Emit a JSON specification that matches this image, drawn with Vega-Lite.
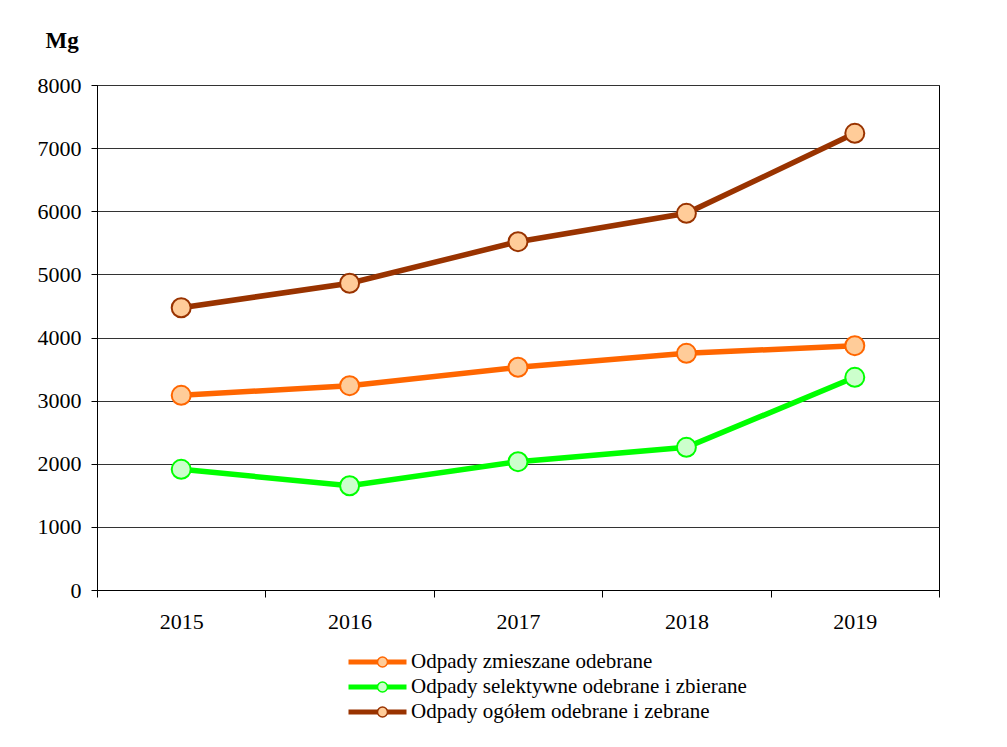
{
  "$schema": "https://vega.github.io/schema/vega-lite/v6.json",
  "width": 842,
  "height": 505,
  "autosize": {"type": "none"},
  "padding": {"left": 97, "top": 85, "right": 68, "bottom": 157},
  "background": "white",
  "data": {
    "values": [
      {"year": "2015", "series": "Odpady zmieszane odebrane", "value": 3084},
      {"year": "2016", "series": "Odpady zmieszane odebrane", "value": 3237},
      {"year": "2017", "series": "Odpady zmieszane odebrane", "value": 3528},
      {"year": "2018", "series": "Odpady zmieszane odebrane", "value": 3749},
      {"year": "2019", "series": "Odpady zmieszane odebrane", "value": 3871},
      {"year": "2015", "series": "Odpady selektywne odebrane i zbierane", "value": 1912},
      {"year": "2016", "series": "Odpady selektywne odebrane i zbierane", "value": 1652},
      {"year": "2017", "series": "Odpady selektywne odebrane i zbierane", "value": 2033},
      {"year": "2018", "series": "Odpady selektywne odebrane i zbierane", "value": 2260},
      {"year": "2019", "series": "Odpady selektywne odebrane i zbierane", "value": 3369},
      {"year": "2015", "series": "Odpady ogółem odebrane i zebrane", "value": 4472},
      {"year": "2016", "series": "Odpady ogółem odebrane i zebrane", "value": 4859},
      {"year": "2017", "series": "Odpady ogółem odebrane i zebrane", "value": 5518},
      {"year": "2018", "series": "Odpady ogółem odebrane i zebrane", "value": 5967},
      {"year": "2019", "series": "Odpady ogółem odebrane i zebrane", "value": 7234}
    ]
  },
  "encoding": {
    "x": {
      "field": "year", "type": "ordinal", "bandPosition": 0.5,
      "scale": {"type": "band", "paddingInner": 0, "paddingOuter": 0},
      "axis": {
        "title": null, "labelAngle": 0, "tickBand": "extent", "tickSize": 7,
        "labelPadding": 14, "domainColor": "black", "tickColor": "black", "grid": false
      }
    },
    "y": {
      "field": "value", "type": "quantitative",
      "scale": {"domain": [0, 8000], "nice": false},
      "axis": {
        "values": [0, 1000, 2000, 3000, 4000, 5000, 6000, 7000, 8000], "format": "d",
        "title": "Mg", "titleAngle": 0, "titleAlign": "left", "titleBaseline": "middle",
        "titleX": -52, "titleY": -45, "titleFont": "Liberation Serif", "titleFontSize": 23,
        "titleFontWeight": "bold", "titleColor": "black",
        "tickSize": 6, "labelPadding": 10, "grid": true, "gridColor": "#333333",
        "domainColor": "black", "tickColor": "black"
      }
    }
  },
  "layer": [
    {
      "mark": {"type": "line", "strokeWidth": 5.5},
      "encoding": {
        "stroke": {
          "field": "series", "type": "nominal",
          "scale": {
            "domain": ["Odpady zmieszane odebrane", "Odpady selektywne odebrane i zbierane", "Odpady ogółem odebrane i zebrane"],
            "range": ["#ff6600", "#00ff00", "#993300"]
          },
          "legend": {
            "title": null, "orient": "none", "legendX": 249, "legendY": 567,
            "symbolType": "stroke", "symbolSize": 3364, "symbolStrokeWidth": 5,
            "clipHeight": 20, "rowPadding": 4, "labelOffset": 2, "padding": 0,
            "labelFont": "Liberation Serif", "labelFontSize": 21, "labelColor": "black",
            "labelLimit": 500
          }
        }
      }
    },
    {
      "mark": {"type": "point", "filled": true, "size": 361, "strokeWidth": 2, "opacity": 1},
      "encoding": {
        "stroke": {
          "field": "series", "type": "nominal",
          "scale": {
            "domain": ["Odpady zmieszane odebrane", "Odpady selektywne odebrane i zbierane", "Odpady ogółem odebrane i zebrane"],
            "range": ["#ff6600", "#00ff00", "#993300"]
          },
          "legend": {
            "title": null, "orient": "none", "legendX": 275, "legendY": 567,
            "symbolType": "circle", "symbolSize": 100, "symbolStrokeWidth": 1.5,
            "clipHeight": 20, "rowPadding": 4, "padding": 0,
            "labelExpr": "''", "labelFontSize": 21
          }
        },
        "fill": {
          "field": "series", "type": "nominal",
          "scale": {
            "domain": ["Odpady zmieszane odebrane", "Odpady selektywne odebrane i zbierane", "Odpady ogółem odebrane i zebrane"],
            "range": ["#ffcc99", "#ccffcc", "#ffcc99"]
          },
          "legend": {
            "title": null, "orient": "none", "legendX": 275, "legendY": 567,
            "symbolType": "circle", "symbolSize": 100, "symbolStrokeWidth": 1.5,
            "clipHeight": 20, "rowPadding": 4, "padding": 0,
            "labelExpr": "''", "labelFontSize": 21
          }
        }
      }
    }
  ],
  "resolve": {
    "scale": {"stroke": "independent", "fill": "independent"},
    "legend": {"stroke": "independent", "fill": "independent"}
  },
  "config": {
    "view": {"stroke": "black", "strokeWidth": 1},
    "axis": {
      "labelFont": "Liberation Serif", "labelFontSize": 22, "labelColor": "black",
      "domainWidth": 1, "tickWidth": 1
    }
  }
}
